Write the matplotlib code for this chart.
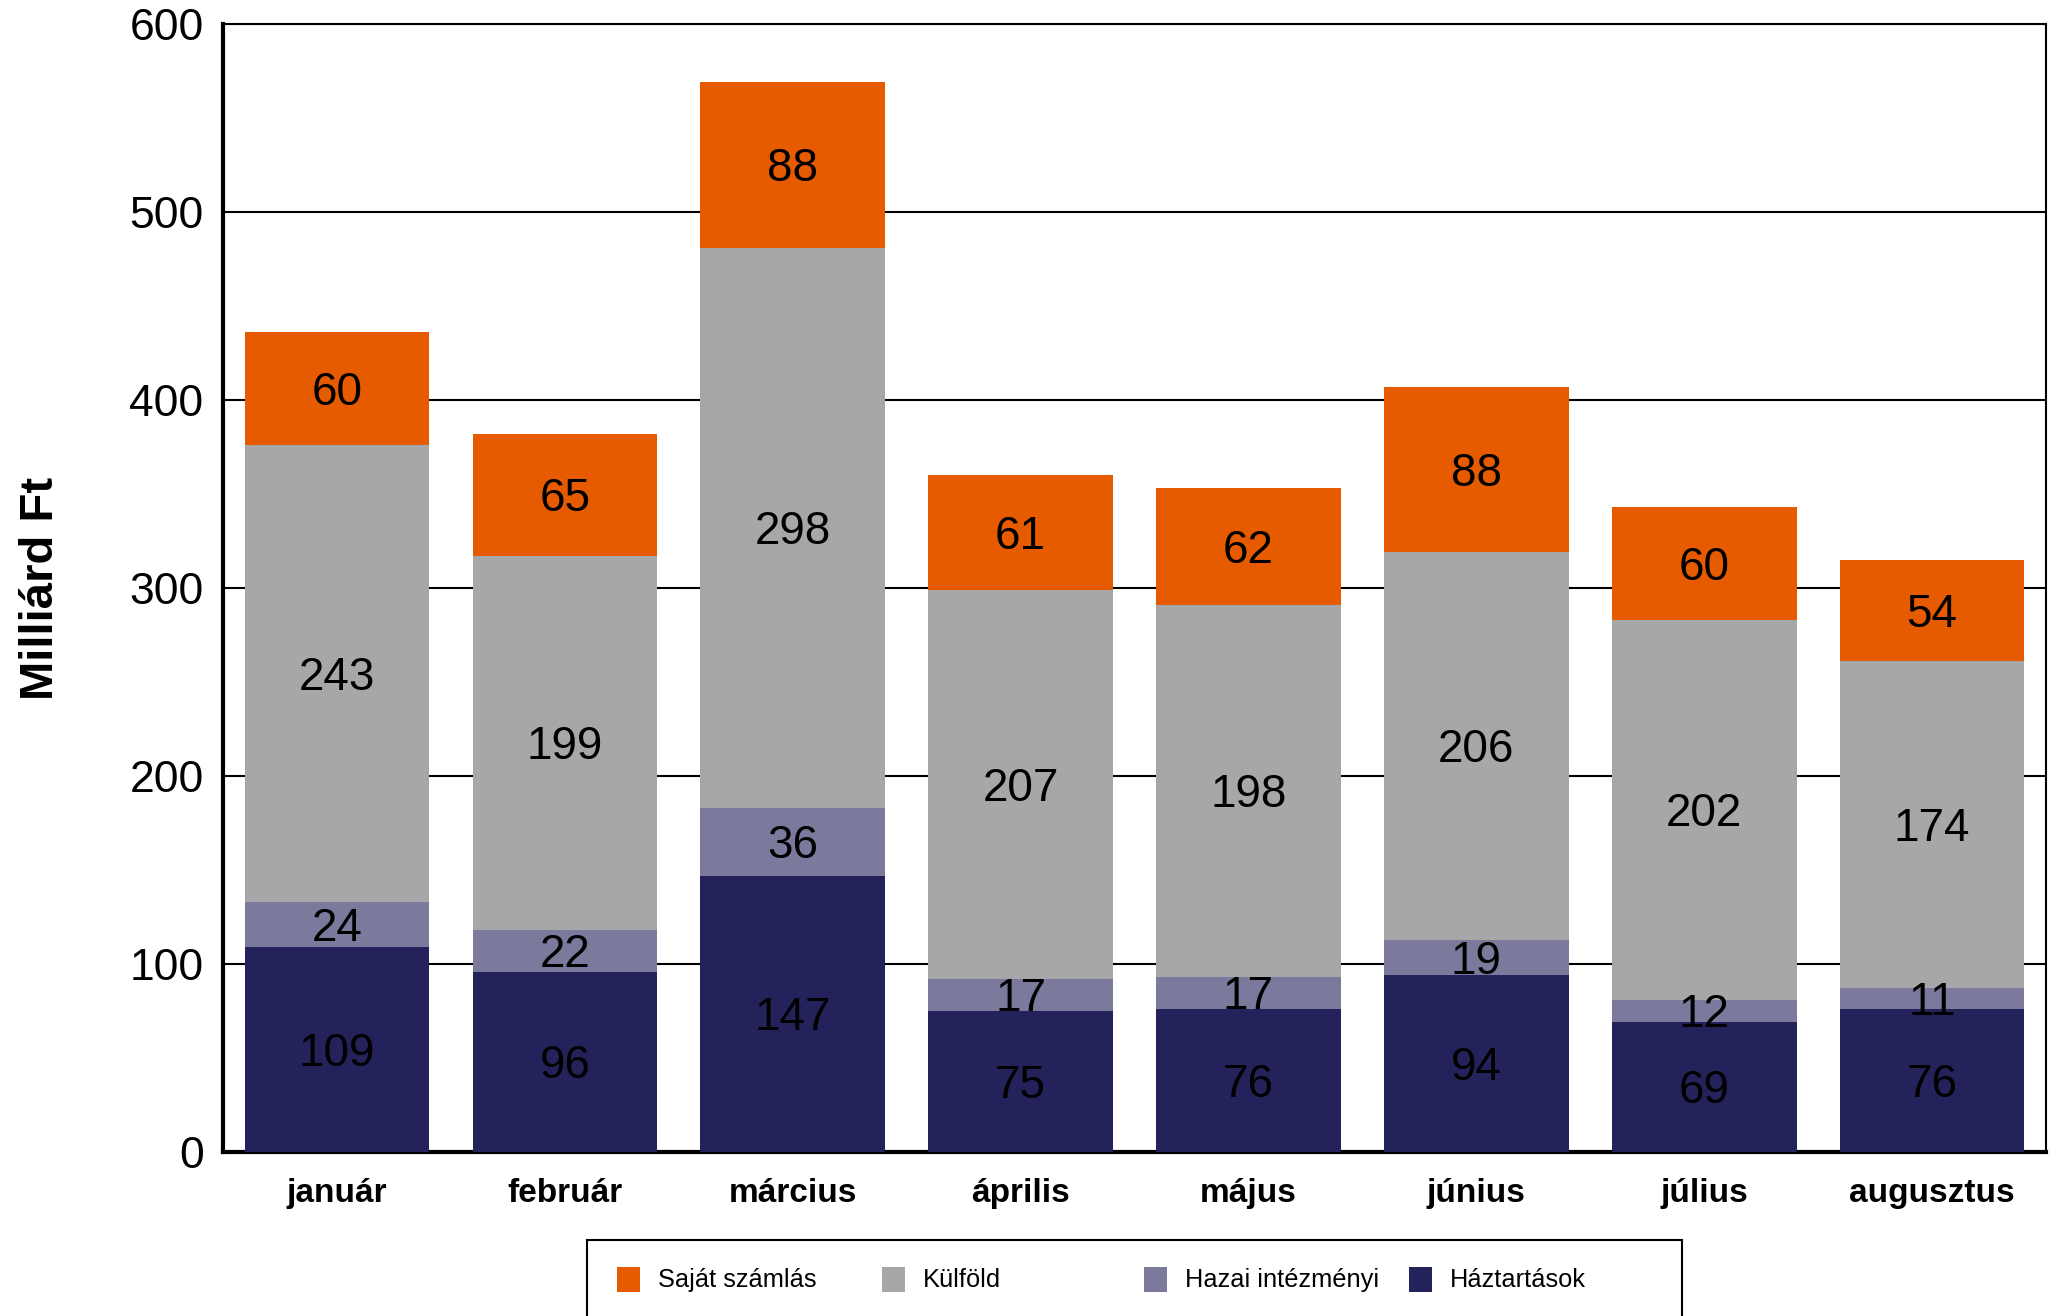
import matplotlib
matplotlib.use('Agg')
import matplotlib.pyplot as plt
from matplotlib.patches import Rectangle
import numpy as np

plt.rcParams['font.family'] = ['Liberation Sans', 'DejaVu Sans']

# data (milliárd Ft)
months = ['január', 'február', 'március', 'április', 'május', 'június', 'július', 'augusztus']
haztartasok = [109, 96, 147, 75, 76, 94, 69, 76]
hazai_intezmenyi = [24, 22, 36, 17, 17, 19, 12, 11]
kulfold = [243, 199, 298, 207, 198, 206, 202, 174]
sajat_szamlas = [60, 65, 88, 61, 62, 88, 60, 54]

series_names = ['Háztartások', 'Hazai intézményi', 'Külföld', 'Saját számlás']
colors = ['#24225A', '#7B7A9D', '#A7A7A9', '#E65A00']

fig = plt.figure(figsize=(20.57, 13.16), dpi=100)
ax = fig.add_axes([0.1084, 0.1246, 0.8863, 0.8572])

x = np.arange(len(months))
bottom = np.zeros(len(months))
for vals, col in zip([haztartasok, hazai_intezmenyi, kulfold, sajat_szamlas], colors):
    vals = np.array(vals)
    ax.bar(x, vals, width=0.81, bottom=bottom, color=col, zorder=3)
    # value labels centred in each segment (nudged down a bit like excel does)
    for xi, b, v in zip(x, bottom, vals):
        ax.annotate(str(v), (xi, b + v / 2), xytext=(0, -3), textcoords='offset points',
                    ha='center', va='center', fontsize=33, color='black', zorder=4)
    bottom = bottom + vals

ax.set_xlim(-0.5, len(months) - 0.5)
ax.set_ylim(0, 600)
ax.set_yticks(range(0, 601, 100))
ax.set_xticks(x)
ax.set_xticklabels(months, fontsize=24, fontweight='bold')
ax.tick_params(axis='y', labelsize=32, length=0, pad=14)
ax.tick_params(axis='x', length=0, pad=19)
ax.yaxis.grid(True, color='black', linewidth=1.5, zorder=0)
ax.set_axisbelow(True)

for s in ['left', 'bottom']:
    ax.spines[s].set_linewidth(3)
for s in ['top', 'right']:
    ax.spines[s].set_linewidth(1.5)

ax.set_ylabel('Milliárd Ft', fontsize=34, fontweight='bold')
ax.yaxis.set_label_coords(-0.088, 0.5)

# legend drawn by hand (box runs off the bottom edge like the original)
W, H = 2057.0, 1316.0
fig.add_artist(Rectangle((587 / W, -0.05), (1682 - 587) / W, 0.05 + (H - 1240) / H,
                         transform=fig.transFigure, facecolor='white',
                         edgecolor='black', linewidth=1.5))
leg_order = [3, 2, 1, 0]
leg_x = [617, 882, 1144, 1409]
for px, i in zip(leg_x, leg_order):
    fig.add_artist(Rectangle((px / W, (H - 1292) / H), 23 / W, 25 / H,
                             transform=fig.transFigure, facecolor=colors[i],
                             edgecolor='none'))
    fig.text((px + 41) / W, (H - 1280) / H, series_names[i], fontsize=18.3,
             ha='left', va='center')

fig.savefig('out.png', dpi=100)
